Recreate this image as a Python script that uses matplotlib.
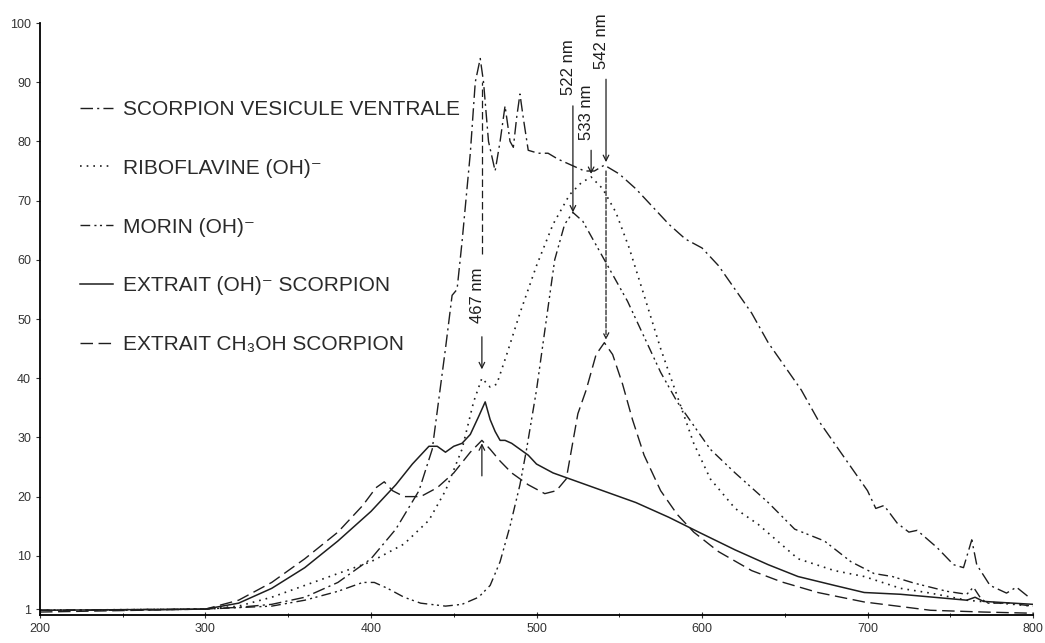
import matplotlib.pyplot as plt
import numpy as np

#
# Emission spectra - scorpion extracts vs riboflavine / morin
#

# SCORPION VESICULE VENTRALE
ves_nm = [200, 250, 300, 320, 340, 360, 380, 400, 415, 429, 437, 445, 449, 452, 455, 460, 463, 466, 468, 471,
          475, 478, 481, 484, 486, 488, 490, 492, 495, 501, 507, 513, 521, 529, 535, 541, 550, 560, 570, 580,
          590, 600, 610, 620, 630, 640, 650, 660, 670, 680, 690, 700, 705, 710, 718, 725, 730, 742, 752, 758,
          763, 766, 774, 784, 790, 798]
ves_val = [0.8, 0.8, 1, 1.3, 1.8, 3, 5.5, 9.5, 14.5, 21, 28, 45, 54, 55, 63, 78, 90, 94, 90, 80,
           75, 80, 86, 80, 79, 84, 88, 84, 78.5, 78, 78, 77, 76, 75, 75, 76, 74.5, 72, 69, 66,
           63.5, 62, 59, 55, 51, 46, 42, 38, 33, 29, 25, 21, 18, 18.5, 15.5, 14, 14.3, 11.4, 8.5, 8,
           12.7, 8.5, 5, 3.7, 4.7, 2.9]

# RIBOFLAVINE (OH)-
rib_nm = [200, 300, 320, 340, 360, 380, 400, 420, 435, 445, 455, 462, 467, 472, 476, 482, 490, 500, 510, 520,
          527, 533, 540, 548, 556, 565, 575, 585, 595, 605, 620, 634, 658, 680, 698, 720, 738, 760, 780, 800]
rib_val = [0.8, 1, 1.5, 3, 5, 7, 9, 12, 16, 21, 28, 36, 40, 38.5, 39, 44, 51, 59, 66, 71,
           73, 74, 72, 68, 62, 54, 45, 37, 29, 23, 18, 15.3, 9.5, 7.5, 6.5, 4.5, 3.7, 2.5, 2, 1.5]

# MORIN (OH)-
mor_nm = [200, 300, 340, 360, 380, 395, 402, 410, 420, 430, 445, 455, 465, 472, 478, 484, 490, 494, 500, 505,
          511, 517, 522, 528, 535, 545, 555, 565, 575, 585, 595, 605, 620, 640, 656, 674, 690, 704, 715, 728,
          748, 760, 764, 768, 772, 785, 800]
mor_val = [0.8, 1, 1.5, 2.5, 4, 5.5, 5.5, 4.5, 3, 2, 1.5, 1.8, 3, 5, 9, 15, 22, 28, 38, 48,
           60, 66, 68, 66.5, 63, 58, 53, 47, 41, 36, 32, 28, 24, 19, 14.5, 12.5, 9, 7, 6.5, 5.4,
           4, 3.5, 4.7, 3, 2, 2, 1.5]

# EXTRAIT (OH)- SCORPION
oh_nm = [200, 300, 320, 340, 360, 380, 400, 415, 425, 435, 440, 445, 450, 455, 460, 465, 469, 472, 475, 478,
         481, 485, 490, 495, 500, 510, 525, 540, 560, 580, 598, 620, 640, 658, 680, 698, 720, 740, 760, 765,
         770, 800]
oh_val = [0.8, 1, 2, 4.5, 8, 12.5, 17.5, 22, 25.5, 28.5, 28.5, 27.5, 28.5, 29, 30.5, 33.5, 36, 33, 31, 29.5,
          29.5, 29, 28, 27, 25.5, 24, 22.5, 21, 19, 16.5, 14, 11, 8.5, 6.5, 5, 3.8, 3.5, 3, 2.5, 3,
          2.3, 1.8]

# EXTRAIT CH3OH SCORPION
me_nm = [200, 300, 320, 340, 360, 380, 395, 403, 408, 413, 420, 430, 440, 450, 460, 467, 472, 478, 485, 495,
         505, 512, 518, 525, 530, 536, 541, 546, 552, 558, 565, 575, 585, 595, 610, 630, 648, 670, 698, 738,
         770, 800]
me_val = [0.5, 1, 2.5, 5.5, 9.5, 14, 18.5, 21.5, 22.5, 21, 20, 20, 21.5, 24, 27.5, 29.5, 28, 26, 24, 22,
          20.5, 21, 23, 34, 38, 44, 46, 44, 39, 33, 27, 21, 17, 14, 10.7, 7.5, 5.6, 3.8, 2.2, 0.8,
          0.5, 0.3]

labels = ['SCORPION VESICULE VENTRALE', 'RIBOFLAVINE (OH)\u207b', 'MORIN (OH)\u207b',
          'EXTRAIT (OH)\u207b SCORPION', 'EXTRAIT CH\u2083OH SCORPION']
x_ticks = [200, 300, 400, 500, 600, 700, 800]
y_ticks = [1, 10, 20, 30, 40, 50, 60, 70, 80, 90, 100]

# marked wavelengths and where the labels / arrows sit
peak_nm = [467, 522, 533, 542]
peak_text_y = [54, 92.5, 85, 97]
arrow_top = [47, 86, 78.5, 90.5]
arrow_tip = [41.5, 68, 74.5, 76.5]

plt.rcParams['font.family'] = ['Liberation Sans', 'DejaVu Sans']
ink = '#1e1e1e'

fig = plt.figure(figsize=(10.45, 6.43), dpi=100)
ax = fig.add_axes([40 / 1045, 28 / 643, 993 / 1045, 592 / 643])

ax.plot(ves_nm, ves_val, color=ink, lw=1.0, ls=(0, (9, 3, 1.5, 3)), label=labels[0])
ax.plot(rib_nm, rib_val, color=ink, lw=1.2, ls=(0, (1, 3)), label=labels[1])
ax.plot(mor_nm, mor_val, color=ink, lw=1.0, ls=(0, (7, 3, 1.5, 2.5, 1.5, 3)), label=labels[2])
ax.plot(oh_nm, oh_val, color=ink, lw=1.1, ls='-', label=labels[3])
ax.plot(me_nm, me_val, color=ink, lw=1.0, ls=(0, (9, 4)), label=labels[4])

# peak annotations (label sits a little left of its arrow)
for nm, ty, top, tip in zip(peak_nm, peak_text_y, arrow_top, arrow_tip):
    ax.annotate(str(nm) + ' nm', xy=(nm, ty), xytext=(-3.5, 0), textcoords='offset points',
                rotation=90, ha='center', va='center', fontsize=12, color=ink)
    ax.annotate('', xy=(nm, tip), xytext=(nm, top),
                arrowprops=dict(arrowstyle='->', color=ink, lw=0.9, shrinkA=0, shrinkB=0))

# dashed guide above the 467 label, and from the 542 label down to the CH3OH peak
ax.plot([peak_nm[0], peak_nm[0]], [61, 90], color=ink, lw=0.9, ls=(0, (6, 3)))
ax.annotate('', xy=(peak_nm[3], 46.5), xytext=(peak_nm[3], 75),
            arrowprops=dict(arrowstyle='->', color=ink, lw=0.9, ls='--', shrinkA=0, shrinkB=0))
# arrow from below onto the CH3OH maximum at 467
ax.annotate('', xy=(peak_nm[0], 29), xytext=(peak_nm[0], 23.5),
            arrowprops=dict(arrowstyle='->', color=ink, lw=0.9, shrinkA=0, shrinkB=0))

leg = ax.legend(loc='upper left', bbox_to_anchor=(0.04, 0.870), frameon=False,
                fontsize=15, handlelength=1.6, handletextpad=0.5, labelspacing=1.91,
                borderpad=0, borderaxespad=0)
for t in leg.get_texts():
    t.set_color('#2a2a2a')

ax.set_xlim(200, 800)
ax.set_ylim(0, 100)
ax.set_xticks(x_ticks)
ax.set_xticks(np.arange(250, 800, 50), minor=True)
ax.set_yticks(y_ticks)
ax.tick_params(axis='both', labelsize=9, colors='#333333', length=3, width=0.8)
ax.tick_params(axis='x', which='both', direction='inout', length=4)
ax.tick_params(axis='x', which='minor', length=3)
ax.spines['top'].set_visible(False)
ax.spines['right'].set_visible(False)
ax.spines['left'].set_linewidth(1.3)
ax.spines['bottom'].set_linewidth(1.3)

plt.savefig('out.png', dpi=100)
